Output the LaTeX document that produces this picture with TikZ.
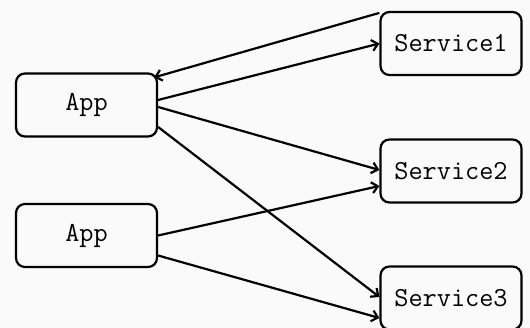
\documentclass[tikz,border=0pt]{standalone}
\usetikzlibrary{arrows.meta}

\begin{document}
\begin{tikzpicture}[
		x=1pt, y=1pt,
		box/.style={draw, line width=2.2pt, rounded corners=9pt, minimum width=141pt, minimum height=63pt, inner sep=0pt, font=\fontsize{27.5}{32}\selectfont\ttfamily},
		conn/.style={->, line width=2.2pt},
		>={Straight Barb[length=6pt,width=11pt]}]
	%% frame
	\fill[black!2] (0,0) rectangle (530,328);
	\useasboundingbox (0,0) rectangle (530,328);
	%% define nodes
	\node (app1) at (86.5,223) [box] {App};
	\node (app2) at (86.5,92.5) [box] {App};
	\node (srv1) at (451,284.5) [box] {Service1};
	\node (srv2) at (451,157) [box] {Service2};
	\node (srv3) at (451,30) [box] {Service3};
	%% define arrows
	\draw[conn] ([yshift=-2pt]srv1.north west) -- ([xshift=-4pt,yshift=-5pt]app1.north east);
	\draw[conn] ([yshift=5pt]app1.east) -- (srv1.west);
	\draw[conn] ([yshift=-2pt]app1.east) -- ([yshift=1pt]srv2.west);
	\draw[conn] ([yshift=-22pt]app1.east) -- ([yshift=1pt]srv3.west);
	\draw[conn] (app2.east) -- ([yshift=-15pt]srv2.west);
	\draw[conn] ([yshift=-20pt]app2.east) -- ([yshift=-20pt]srv3.west);
\end{tikzpicture}
\end{document}
